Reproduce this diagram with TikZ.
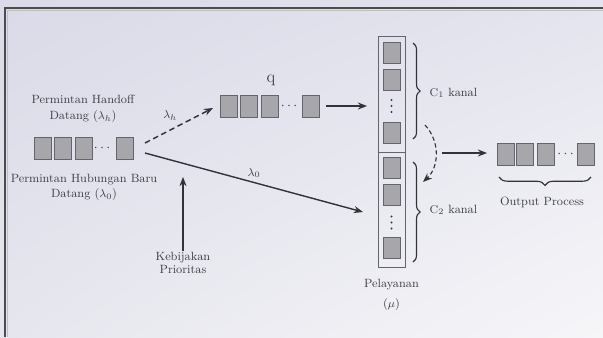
\documentclass[tikz,border=0pt]{standalone}
\usetikzlibrary{arrows.meta,decorations.pathreplacing,shadings}

\definecolor{bgtl}{RGB}{218,218,232}
\definecolor{bgtr}{RGB}{228,228,238}
\definecolor{bgbl}{RGB}{230,230,238}
\definecolor{bgbr}{RGB}{246,246,249}
\definecolor{boxfill}{RGB}{166,166,171}
\definecolor{boxline}{RGB}{100,100,108}
\definecolor{txt}{RGB}{62,62,72}
\definecolor{arr}{RGB}{50,50,58}

\tikzset{
  slot/.style={draw=boxline, fill=boxfill, line width=0.6pt, inner sep=0pt,
    minimum width=0.425cm, minimum height=0.55cm},
  srvslot/.style={slot, minimum height=0.525cm},
  lbl/.style={text=txt, font=\fontsize{8.5}{10}\selectfont, align=center, inner sep=1pt},
  flow/.style={draw=arr, line width=1pt, -{Stealth[length=6.5pt,width=5pt]}},
  curly/.style={draw=arr, line width=0.8pt, decorate,
    decoration={brace, amplitude=5pt}},
}

\begin{document}
\begin{tikzpicture}[x=0.025cm, y=-0.025cm]
\useasboundingbox (0,0) rectangle (603,337);

% background and frame
\shade[upper left=bgtl, upper right=bgtr, lower left=bgbl, lower right=bgbr]
  (0,0) rectangle (603,337);
\draw[gray!60!black, line width=1.1pt] (603,8) -- (5,8) -- (5,337);
\draw[gray!50, line width=0.4pt] (603,10.5) -- (7.5,10.5) -- (7.5,337);

% incoming queue
\foreach \n/\x in {h1/43, h2/63, h3/83.5, h4/125}
  \node[slot] (\n) at (\x,148) {};
\node[text=txt, inner sep=0pt] (hdots) at (102,148) {$\cdots$};
\node[lbl] (handoff) at (83,109) {Permintan Handoff\\[1pt] Datang ($\lambda_h$)};
\node[lbl] (baru) at (84,187.5) {Permintan Hubungan Baru\\[1pt] Datang ($\lambda_0$)};

% handoff queue q
\foreach \n/\x in {q1/228.5, q2/248.5, q3/269.5, q4/310.5}
  \node[slot] (\n) at (\x,106) {};
\node[text=txt, inner sep=0pt] (qdots) at (289,106) {$\cdots$};
\node[text=txt, font=\large] (qname) at (271,80) {q};

% server with two groups of channels
\node[draw=boxline, line width=0.7pt, minimum width=0.675cm,
  minimum height=5.75cm, inner sep=0pt] (srv) at (391.5,152) {};
\draw[boxline, line width=0.7pt] (srv.west |- 0,152) coordinate (divl)
  -- (srv.east |- 0,152) coordinate (divr);
\foreach \n/\y in {s1/53, s2/79.5, s3/133, s4/168, s5/194.5, s6/248}
  \node[srvslot] (\n) at (391.5,\y) {};
% vertical dots
\foreach \y in {100,106,112,216.5,222.5,228.5}
  \fill[txt] (391.5,\y) circle (0.8pt);
\node[lbl] (pelayanan) at (391.5,295) {Pelayanan\\[4pt] ($\mu$)};

% braces for channels
\coordinate (c1top) at (413,43);
\coordinate (c1bot) at (413,139);
\coordinate (c2top) at (413,162);
\coordinate (c2bot) at (413,262);
\draw[curly] (c1top) -- (c1bot);
\draw[curly] (c2top) -- (c2bot);
\node[lbl, anchor=west] (c1) at (428,93) {$\mathrm{C}_1$ kanal};
\node[lbl, anchor=west] (c2) at (428,210) {$\mathrm{C}_2$ kanal};

% output queue
\foreach \n/\x in {o1/505.5, o2/525, o3/545.5, o4/585.5}
  \node[slot] (\n) at (\x,154) {};
\node[text=txt, inner sep=0pt] (odots) at (565.5,154) {$\cdots$};
\coordinate (obr) at (591,177);
\coordinate (obl) at (499,177);
\draw[curly, decoration={brace, amplitude=6pt}] (obr) -- (obl);
\node[lbl] (output) at (542,202) {Output Process};

% priority policy
\node[lbl] (kebijakan) at (183,263) {Kebijakan\\[-1pt] Prioritas};
\coordinate (kend) at (183,177);

% connectors
\coordinate (hout1) at (145,143);
\coordinate (hout2) at (145,153);
\coordinate (qin) at (213,108);
\coordinate (srvin) at (363,212);
\coordinate (qout) at (326,106);
\coordinate (srvq) at (367,106);
\coordinate (sout) at (442,153);
\coordinate (oin) at (487,153);
\coordinate (swtop) at (425,125);
\coordinate (swbot) at (423,182);

\draw[flow, dashed, dash pattern=on 4pt off 2.5pt] (hout1) -- node[lbl, above=5pt, pos=0.37] {$\lambda_h$} (qin);
\draw[flow] (hout2) -- node[lbl, above=2pt, pos=0.5] {$\lambda_0$} (srvin);
\draw[flow] (qout) -- (srvq);
\draw[flow] (kebijakan.north) -- (kend);
\draw[flow, line width=0.8pt, dashed, dash pattern=on 3pt off 2pt] (swtop) to[bend left=45] (swbot);
\draw[flow] (sout) -- (oin);

\end{tikzpicture}
\end{document}
